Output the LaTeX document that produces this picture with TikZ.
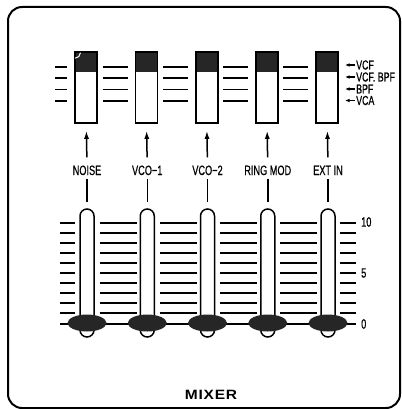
\documentclass[tikz,border=0pt]{standalone}
\usepackage{fontspec}
\setmainfont{Liberation Sans}
\newfontfamily\condfont[FakeStretch=0.68,FakeBold=0.6]{Liberation Sans}
\newfontfamily\widefont[FakeStretch=1.15,LetterSpace=6]{Liberation Sans}
\usetikzlibrary{arrows.meta,shapes.geometric,positioning}

\tikzset{
  modebox/.style={draw, line width=1.6pt, fill=white, inner sep=0pt,
    minimum width=22pt, minimum height=71pt,
    path picture={\fill[black!85] (path picture bounding box.north west)
      rectangle ([yshift=-20pt]path picture bounding box.north east);}},
  tube/.style={draw, line width=1.5pt, fill=white, rounded corners=7pt,
    minimum width=14pt, minimum height=128pt, inner sep=0pt},
  knob/.style={ellipse, fill=black!85, minimum width=39pt,
    minimum height=17pt, inner sep=0pt},
  chlabel/.style={font=\condfont\fontsize{13.5}{13.5}\selectfont, inner sep=0pt,
    text height=9.5pt, text depth=0pt, anchor=base},
  modelabel/.style={font=\condfont\fontsize{13}{13}\selectfont,
    inner sep=1pt, anchor=west},
  scalelabel/.style={font=\condfont\fontsize{13.5}{13.5}\selectfont,
    inner sep=0pt, anchor=west},
  tick/.style={line width=1.5pt},
  bigtick/.style={line width=2.3pt},
  feed/.style={line width=1.5pt, -{Latex[length=8pt,width=5pt]}},
  modearrow/.style={line width=1.2pt, -{Latex[length=4.5pt,width=3.5pt]}}
}

\begin{document}
\begin{tikzpicture}[x=1pt, y=-1pt]
\useasboundingbox (0,0) rectangle (401,409);

% frame
\draw[line width=2pt, rounded corners=14pt] (8,7) rectangle (400,408);

% zero line of the fader scale
\draw[line width=2pt] (60,324) -- (355.5,324);

% fader scale ticks
\foreach \k in {0,...,9}{
  \pgfmathsetmacro{\ty}{223+10*\k}
  \ifnum\k=0 \def\tk{bigtick}\else\ifnum\k=5 \def\tk{bigtick}\else\def\tk{tick}\fi\fi
  \draw[\tk] (60,\ty) -- (75,\ty);
  \foreach \j in {0,...,3}{
    \pgfmathsetmacro{\tx}{87+60.25*\j}
    \draw[\tk] (\tx+12.5,\ty) -- (\tx+49.5,\ty);
  }
  \draw[\tk] (339.5,\ty) -- (355.5,\ty);
}

% mode selector ticks
\foreach \my in {67,78,89.5,101}{
  \draw[line width=1.8pt] (55,\my) -- (67,\my);
  \foreach \j in {0,...,3}{
    \pgfmathsetmacro{\tx}{86+60.25*\j}
    \draw[line width=1.8pt] (\tx+16.5,\my) -- (\tx+41.5,\my);
  }
}

% channels
\foreach \i/\name in {1/NOISE, 2/VCO−1, 3/VCO−2, 4/RING MOD, 5/EXT IN}{
  \pgfmathsetmacro{\cx}{87+60.25*(\i-1)}
  \node[modebox] (sw\i) at (\cx-0.75,87.5) {};
  \node[chlabel] (lab\i) at (\cx,175) {\name};
  \node[tube] (sl\i) at (\cx,273) {};
  \node[knob] (kn\i) at (\cx,323) {};
  \draw[feed, shorten <=8pt, shorten >=7pt] (lab\i.north) -- (sw\i.south);
  \draw[line width=1.5pt, shorten <=3.5pt, shorten >=6pt] (lab\i.south) -- (sl\i.north);
}

% mark on the first selector
\draw[white, line width=1pt] ([xshift=6pt,yshift=-1.5pt]sw1.north west) arc (0:90:5.5);

% mode names
\node[modelabel] (vcf) at (355,65) {VCF};
\node[modelabel] (vcfbpf) at (355,77) {VCF. BPF};
\node[modelabel] (bpf) at (355,89) {BPF};
\node[modelabel] (vca) at (355,100.5) {VCA};
\foreach \m in {vcf,vcfbpf,bpf,vca}
  \draw[modearrow] (\m.west) -- ++(-10,0);

% fader scale numbers
\node[scalelabel] (s10) at (361,222) {10};
\node[scalelabel] (s5) at (361,273) {5};
\node[scalelabel] (s0) at (361,324) {0};

% title
\node[font=\widefont\bfseries\fontsize{13.5}{13.5}\selectfont] (title) at (211,395) {MIXER};
\end{tikzpicture}
\end{document}
